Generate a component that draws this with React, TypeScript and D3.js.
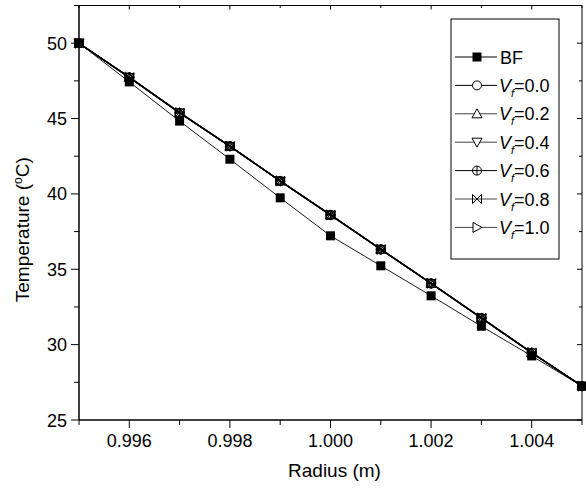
import React from "react";
import * as d3 from "d3";

const radius = [0.995, 0.996, 0.997, 0.998, 0.999, 1.0, 1.001, 1.002, 1.003, 1.004, 1.005];
const bf = [50.0, 47.43, 44.83, 42.3, 39.74, 37.22, 35.23, 33.24, 31.22, 29.25, 27.25];
const vf00 = [50.0, 47.73, 45.38, 43.17, 40.85, 38.6, 36.32, 34.06, 31.76, 29.46, 27.25];
const vf02 = [50.0, 47.74, 45.39, 43.16, 40.86, 38.61, 36.33, 34.07, 31.77, 29.47, 27.25];
const vf04 = [50.0, 47.72, 45.37, 43.15, 40.84, 38.59, 36.31, 34.05, 31.75, 29.45, 27.24];
const vf06 = [50.0, 47.73, 45.38, 43.17, 40.85, 38.6, 36.32, 34.06, 31.76, 29.46, 27.25];
const vf08 = [50.0, 47.75, 45.4, 43.18, 40.87, 38.62, 36.34, 34.08, 31.78, 29.48, 27.26];
const vf10 = [50.0, 47.74, 45.39, 43.17, 40.86, 38.61, 36.33, 34.07, 31.77, 29.47, 27.25];

const seriesNames = ["BF", "0.0", "0.2", "0.4", "0.6", "0.8", "1.0"];
const seriesValues = [bf, vf00, vf02, vf04, vf06, vf08, vf10];
const seriesMarkers = ["square", "circle", "up", "down", "circplus", "xcross", "right"];

const xMajor = [0.996, 0.998, 1.0, 1.002, 1.004];
const xMinor = [0.995, 0.997, 0.999, 1.001, 1.003, 1.005];
const yMajor = [25, 30, 35, 40, 45, 50];
const yMinor = [27.5, 32.5, 37.5, 42.5, 47.5, 52.5];

const FONT = "Arial, Liberation Sans, Helvetica, sans-serif";

function Marker({ type, x, y, fill }: { type: string; x: number; y: number; fill: string }) {
  const s = 4.5;
  const common = { fill, stroke: "black", strokeWidth: 1 };
  switch (type) {
    case "square":
      return <rect x={x - s} y={y - s} width={2 * s} height={2 * s} fill="black" />;
    case "circle":
      return <circle cx={x} cy={y} r={s} {...common} />;
    case "up":
      return <path d={`M${x},${y - s - 0.5}L${x + s + 0.5},${y + s - 0.5}L${x - s - 0.5},${y + s - 0.5}Z`} {...common} />;
    case "down":
      return <path d={`M${x},${y + s + 0.5}L${x + s + 0.5},${y - s + 0.5}L${x - s - 0.5},${y - s + 0.5}Z`} {...common} />;
    case "circplus":
      return (
        <g>
          <circle cx={x} cy={y} r={s} {...common} />
          <path d={`M${x - s},${y}H${x + s}M${x},${y - s}V${y + s}`} stroke="black" strokeWidth={1} />
        </g>
      );
    case "xcross":
      return (
        <path
          d={`M${x - s},${y - s}L${x + s},${y + s}M${x - s},${y + s}L${x + s},${y - s}M${x - s},${y - s}V${y + s}M${x + s},${y - s}V${y + s}`}
          stroke="black"
          strokeWidth={1}
          fill="none"
        />
      );
    case "right":
      return <path d={`M${x + s + 0.5},${y}L${x - s + 0.5},${y - s - 0.5}L${x - s + 0.5},${y + s + 0.5}Z`} {...common} />;
    default:
      return null;
  }
}

export default function App() {
  const W = 586;
  const H = 489;
  const left = 79;
  const right = 582;
  const top = 5.5;
  const bottom = 420;
  const x = d3.scaleLinear().domain([0.995, 1.005]).range([left, right]);
  const y = d3.scaleLinear().domain([25, 52.5]).range([bottom, top]);

  const line = d3
    .line<number>()
    .x((_, i) => x(radius[i]))
    .y((d) => y(d));

  const legendX = 451;
  const legendY = 19;
  const legendRowY = (i: number) => 57 + i * 28.4;

  return (
    <svg
      width={W}
      height={H}
      style={{ position: "absolute", left: 0, top: 0, background: "white" }}
      fontFamily={FONT}
    >
      <rect x={0} y={0} width={W} height={H} fill="white" />
      {/* frame */}
      <line x1={left} x2={right} y1={top} y2={top} stroke="black" strokeWidth={1} />
      <line x1={right} x2={right} y1={top} y2={bottom} stroke="black" strokeWidth={1} />
      <line x1={left} x2={right} y1={bottom} y2={bottom} stroke="black" strokeWidth={1.5} />
      <line x1={left} x2={left} y1={top} y2={bottom} stroke="black" strokeWidth={1.5} />

      {/* x ticks */}
      {xMajor.map((v) => (
        <g key={"xM" + v}>
          <line x1={x(v)} x2={x(v)} y1={bottom} y2={bottom + 8} stroke="black" strokeWidth={1} />
          <line x1={x(v)} x2={x(v)} y1={top} y2={top + 4} stroke="black" strokeWidth={1} />
          <text x={x(v)} y={bottom + 27} fontSize={18} textAnchor="middle" fill="black">
            {d3.format(".3f")(v)}
          </text>
        </g>
      ))}
      {xMinor.map((v) => (
        <g key={"xm" + v}>
          <line x1={x(v)} x2={x(v)} y1={bottom} y2={bottom + 5} stroke="black" strokeWidth={1} />
          <line x1={x(v)} x2={x(v)} y1={top} y2={top + 2.5} stroke="black" strokeWidth={1} />
        </g>
      ))}
      {/* y ticks */}
      {yMajor.map((v) => (
        <g key={"yM" + v}>
          <line x1={left - 8} x2={left} y1={y(v)} y2={y(v)} stroke="black" strokeWidth={1} />
          <line x1={right - 5} x2={right} y1={y(v)} y2={y(v)} stroke="black" strokeWidth={1} />
          <text x={left - 12} y={y(v) + 6.5} fontSize={18} textAnchor="end" fill="black">
            {v}
          </text>
        </g>
      ))}
      {yMinor.map((v) => (
        <g key={"ym" + v}>
          <line x1={left - 5} x2={left} y1={y(v)} y2={y(v)} stroke="black" strokeWidth={1} />
          <line x1={right - 3} x2={right} y1={y(v)} y2={y(v)} stroke="black" strokeWidth={1} />
        </g>
      ))}

      {/* axis titles */}
      <text x={(left + right) / 2 + 4} y={477} fontSize={19} textAnchor="middle" fill="black">
        Radius (m)
      </text>
      <text transform={`translate(29,${(top + bottom) / 2 + 17}) rotate(-90)`} fontSize={19} textAnchor="middle" fill="black">
        Temperature (<tspan dy={-7} fontSize={12}>o</tspan>
        <tspan dy={7}>C)</tspan>
      </text>

      {/* series lines */}
      {seriesValues.map((vals, si) => (
        <path key={"l" + si} d={line(vals) || ""} fill="none" stroke="black" strokeWidth={si === 0 ? 0.9 : 1.2} />
      ))}
      {/* markers */}
      {seriesValues.map((vals, si) => (
        <g key={"m" + si}>
          {vals.map((v, i) => (
            <Marker key={i} type={seriesMarkers[si]} x={x(radius[i])} y={y(v)} fill="none" />
          ))}
        </g>
      ))}

      {/* legend */}
      <rect x={legendX} y={legendY} width={108} height={240} fill="white" stroke="black" strokeWidth={1} />
      {seriesNames.map((name, i) => {
        const ly = legendRowY(i);
        return (
          <g key={"lg" + i}>
            <line x1={455} x2={497} y1={ly} y2={ly} stroke={i === 0 || i === 1 || i === 4 ? "black" : "#444"} strokeWidth={1} />
            <Marker type={seriesMarkers[i]} x={477} y={ly} fill="white" />
            {i === 0 ? (
              <text x={500} y={ly + 6.5} fontSize={18} fill="black">
                {name}
              </text>
            ) : (
              <text x={499} y={ly + 6.5} fontSize={18} fill="black">
                <tspan fontStyle="italic">V</tspan>
                <tspan fontStyle="italic" fontSize={11} dy={5}>f</tspan>
                <tspan dy={-5}>={name}</tspan>
              </text>
            )}
          </g>
        );
      })}
    </svg>
  );
}
